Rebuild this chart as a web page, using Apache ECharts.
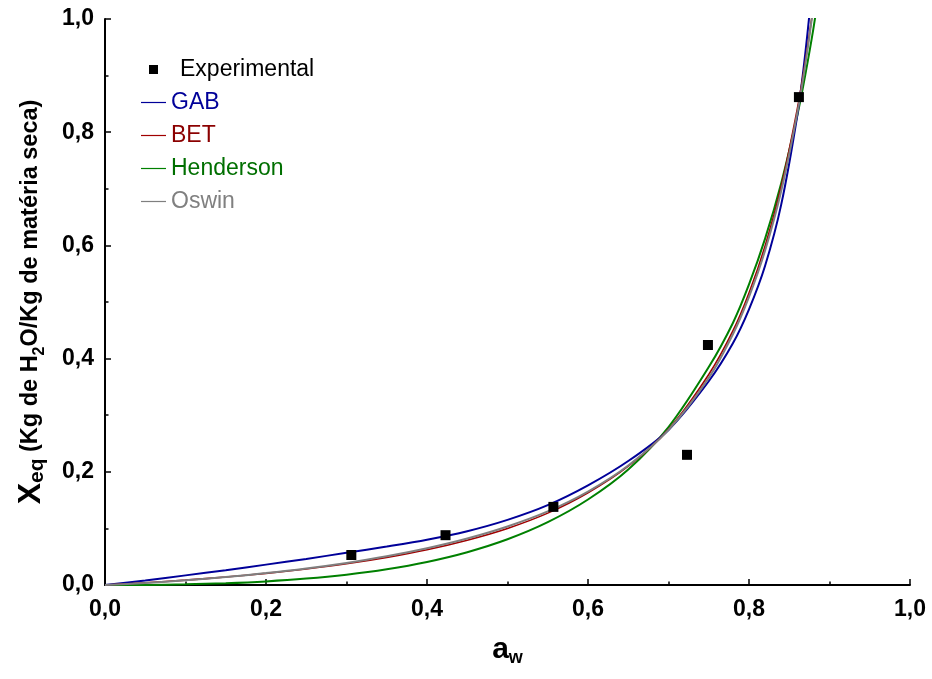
<!DOCTYPE html>
<html>
<head>
<meta charset="utf-8">
<script src="https://cdn.jsdelivr.net/npm/echarts@6/dist/echarts.min.js"></script>
<style>
  html, body { margin: 0; padding: 0; background: #fff; }
  #chart { width: 932px; height: 679px; }
</style>
</head>
<body>
<div id="chart"></div>
<script>
// eixo x comum das curvas (aw)
var awGrid = [0, 0.05, 0.1, 0.15, 0.2, 0.25, 0.3, 0.35, 0.4, 0.45, 0.5, 0.55, 0.6, 0.65, 0.7, 0.75, 0.78, 0.8, 0.82, 0.84, 0.86, 0.87, 0.88, 0.89];
// curvas
var gabY       = [0, 0.008, 0.017, 0.026, 0.036, 0.046, 0.057, 0.068, 0.080, 0.095, 0.115, 0.141, 0.176, 0.219, 0.274, 0.360, 0.427, 0.487, 0.564, 0.672, 0.830, 0.940, 1.085, 1.28];
var betY       = [0, 0.004, 0.0086, 0.0141, 0.0205, 0.0283, 0.0375, 0.0487, 0.0623, 0.0792, 0.100, 0.127, 0.163, 0.210, 0.275, 0.372, 0.449, 0.516, 0.599, 0.704, 0.841, 0.925, 1.024, 1.142];
var hendersonY = [0, 0.0002, 0.0012, 0.0032, 0.0064, 0.0113, 0.0183, 0.0279, 0.0408, 0.058, 0.0808, 0.111, 0.151, 0.204, 0.279, 0.385, 0.463, 0.531, 0.612, 0.710, 0.830, 0.902, 0.983, 1.076];
var oswinY     = [0, 0.0035, 0.0083, 0.0141, 0.021, 0.0292, 0.039, 0.0507, 0.0649, 0.0821, 0.1034, 0.130, 0.165, 0.211, 0.274, 0.366, 0.443, 0.509, 0.591, 0.696, 0.834, 0.920, 1.022, 1.144];
// pontos experimentais
var expAw = [0.306, 0.423, 0.557, 0.723, 0.749, 0.862];
var expX  = [0.053, 0.088, 0.138, 0.230, 0.424, 0.862];
// rotulos dos eixos
var tickLabels = ['0,0', '0,2', '0,4', '0,6', '0,8', '1,0'];

function pares(xs, ys) {
  var out = [];
  for (var i = 0; i < xs.length; i++) out.push([xs[i], ys[i]]);
  return out;
}

var fonte = 'Liberation Sans, Arial, sans-serif';
var iconeLinha = 'path://M0,0H50V2.4H0Z';
var iconeQuadrado = 'path://M0,0H10V10H0Z';
var chart = echarts.init(document.getElementById('chart'));

function rotulo(margem) {
  return {
    color: '#000', fontFamily: fonte, fontWeight: 'bold', fontSize: 23, margin: margem,
    formatter: function (v) { return tickLabels[Math.round(v / 0.2)]; }
  };
}

function eixo(extra) {
  var base = {
    type: 'value',
    min: 0,
    max: 1,
    interval: 0.2,
    splitLine: { show: false },
    axisLine: { show: true, lineStyle: { color: '#000', width: 2 } },
    axisTick: { show: true, inside: true, length: 6, lineStyle: { color: '#000', width: 1.5 } },
    minorTick: { show: true, splitNumber: 2, length: 3.5, lineStyle: { color: '#000', width: 1.5 } }
  };
  for (var k in extra) base[k] = extra[k];
  return base;
}

function curva(nome, ys, cor, largura) {
  return {
    name: nome,
    type: 'line',
    data: pares(awGrid, ys),
    smooth: 0.3,
    showSymbol: false,
    symbol: 'none',
    clip: true,
    lineStyle: { color: cor, width: largura },
    itemStyle: { color: cor },
    z: 2
  };
}

chart.setOption({
  animation: false,
  backgroundColor: '#fff',
  grid: { left: 105, right: 22, top: 19, bottom: 94, containLabel: false },
  legend: {
    orient: 'vertical',
    left: 136,
    top: 53,
    itemWidth: 25,
    itemHeight: 9,
    itemGap: 10,
    selectedMode: false,
    textStyle: { fontFamily: fonte, fontSize: 23, lineHeight: 20 },
    data: [
      { name: 'Experimental', icon: iconeQuadrado, textStyle: { color: '#000', padding: [0, 0, 0, 9] } },
      { name: 'GAB', icon: iconeLinha, textStyle: { color: '#000099' } },
      { name: 'BET', icon: iconeLinha, textStyle: { color: '#8b0000' } },
      { name: 'Henderson', icon: iconeLinha, textStyle: { color: '#006f00' } },
      { name: 'Oswin', icon: iconeLinha, textStyle: { color: '#808080' } }
    ]
  },
  xAxis: eixo({
    name: '{a|a}{w|w}',
    nameLocation: 'middle',
    nameGap: 48,
    nameTextStyle: {
      rich: {
        a: { fontFamily: fonte, fontWeight: 'bold', fontSize: 30, color: '#000', lineHeight: 34, verticalAlign: 'middle' },
        w: { fontFamily: fonte, fontWeight: 'bold', fontSize: 18, color: '#000', lineHeight: 14, verticalAlign: 'bottom' }
      }
    },
    axisLabel: rotulo(13)
  }),
  yAxis: eixo({
    name: '{x|X}{eq|eq}{t| (Kg de H}{s|2}{t|O/Kg de matéria seca)}',
    nameLocation: 'middle',
    nameGap: 57,
    nameTextStyle: {
      rich: {
        x: { fontFamily: fonte, fontWeight: 'bold', fontSize: 32, color: '#000', lineHeight: 34, verticalAlign: 'middle' },
        eq: { fontFamily: fonte, fontWeight: 'bold', fontSize: 21, color: '#000', lineHeight: 16, verticalAlign: 'bottom' },
        t: { fontFamily: fonte, fontWeight: 'bold', fontSize: 23.5, color: '#000', lineHeight: 34, verticalAlign: 'middle' },
        s: { fontFamily: fonte, fontWeight: 'bold', fontSize: 16, color: '#000', lineHeight: 14, verticalAlign: 'bottom' }
      }
    },
    axisLabel: rotulo(11)
  }),
  series: [
    curva('Henderson', hendersonY, '#008000', 2),
    curva('GAB', gabY, '#000099', 2),
    curva('BET', betY, '#a00000', 1.6),
    curva('Oswin', oswinY, '#7f7f7f', 2),
    {
      name: 'Experimental',
      type: 'scatter',
      data: pares(expAw, expX),
      symbol: 'rect',
      symbolSize: 10,
      itemStyle: { color: '#000', opacity: 1 },
      z: 5
    }
  ]
});
</script>
</body>
</html>
